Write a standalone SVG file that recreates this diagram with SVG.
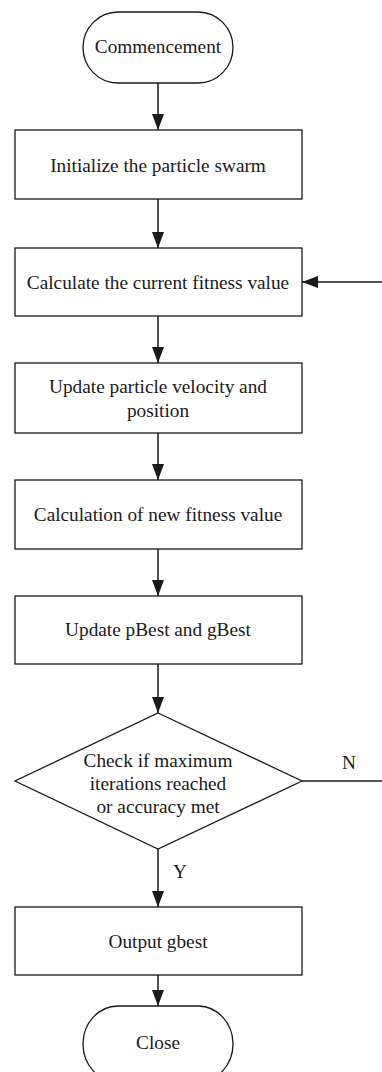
<svg xmlns="http://www.w3.org/2000/svg" width="382" height="1072" viewBox="0 0 382 1072" font-family="Liberation Serif, serif">
  <style>
    .shape { fill: #ffffff; stroke: #1a1a1a; stroke-width: 1.3; }
    .label { font-size: 19.3px; fill: #1a1a1a; text-anchor: middle; }
    .edge { fill: none; stroke: #1a1a1a; stroke-width: 1.5; }
  </style>
  <defs>
    <marker id="arrow" viewBox="0 0 16 12" refX="16" refY="6" markerWidth="16" markerHeight="12" markerUnits="userSpaceOnUse" orient="auto">
      <path d="M0,0 L16,6 L0,12 Z" fill="#1a1a1a"/>
    </marker>
  </defs>

  <rect width="382" height="1072" fill="#ffffff"/>

  <!-- connectors -->
  <g id="connectors">
    <path class="edge" d="M158,83 V130" marker-end="url(#arrow)"/>
    <path class="edge" d="M158,199 V248" marker-end="url(#arrow)"/>
    <path class="edge" d="M158,316 V363" marker-end="url(#arrow)"/>
    <path class="edge" d="M158,433 V480" marker-end="url(#arrow)"/>
    <path class="edge" d="M158,549 V596" marker-end="url(#arrow)"/>
    <path class="edge" d="M158,664 V713" marker-end="url(#arrow)"/>
    <path class="edge" d="M158,849 V907" marker-end="url(#arrow)"/>
    <path class="edge" d="M158,975 V1006" marker-end="url(#arrow)"/>
    <!-- loop back when the stop condition is not met -->
    <path class="edge" d="M302,781 H392 V282 H302" marker-end="url(#arrow)"/>
    <text class="label" x="349" y="769" font-family="Liberation Serif, serif">N</text>
    <text class="label" x="180" y="878" font-family="Liberation Serif, serif">Y</text>
  </g>

  <g id="start">
    <rect class="shape" x="83" y="12" width="150" height="71" rx="35" ry="35.5"/>
    <text class="label" x="158" y="53" font-family="Liberation Serif, serif">Commencement</text>
  </g>

  <g id="init">
    <rect class="shape" x="15" y="130" width="287" height="69"/>
    <text class="label" x="158" y="171.5" font-family="Liberation Serif, serif">Initialize the particle swarm</text>
  </g>

  <g id="fitness">
    <rect class="shape" x="15" y="248" width="287" height="68"/>
    <text class="label" x="158" y="289" font-family="Liberation Serif, serif">Calculate the current fitness value</text>
  </g>

  <g id="update-velocity">
    <rect class="shape" x="15" y="363" width="287" height="70"/>
    <text class="label" x="158" y="392.5" font-family="Liberation Serif, serif">Update particle velocity and</text>
    <text class="label" x="158" y="416.5" font-family="Liberation Serif, serif">position</text>
  </g>

  <g id="new-fitness">
    <rect class="shape" x="15" y="480" width="287" height="69"/>
    <text class="label" x="158" y="520.5" font-family="Liberation Serif, serif">Calculation of new fitness value</text>
  </g>

  <g id="update-best">
    <rect class="shape" x="15" y="596" width="287" height="68"/>
    <text class="label" x="158" y="636" font-family="Liberation Serif, serif">Update pBest and gBest</text>
  </g>

  <g id="check">
    <polygon class="shape" points="158,713 302,781 158,849 15,781"/>
    <text class="label" x="158" y="766.5" font-family="Liberation Serif, serif">Check if maximum</text>
    <text class="label" x="158" y="790" font-family="Liberation Serif, serif">iterations reached</text>
    <text class="label" x="158" y="813" font-family="Liberation Serif, serif">or accuracy met</text>
  </g>

  <g id="output">
    <rect class="shape" x="15" y="907" width="287" height="68"/>
    <text class="label" x="158" y="948" font-family="Liberation Serif, serif">Output gbest</text>
  </g>

  <g id="end">
    <rect class="shape" x="83" y="1006" width="150" height="76" rx="35" ry="38"/>
    <text class="label" x="158" y="1049" font-family="Liberation Serif, serif">Close</text>
  </g>
</svg>
